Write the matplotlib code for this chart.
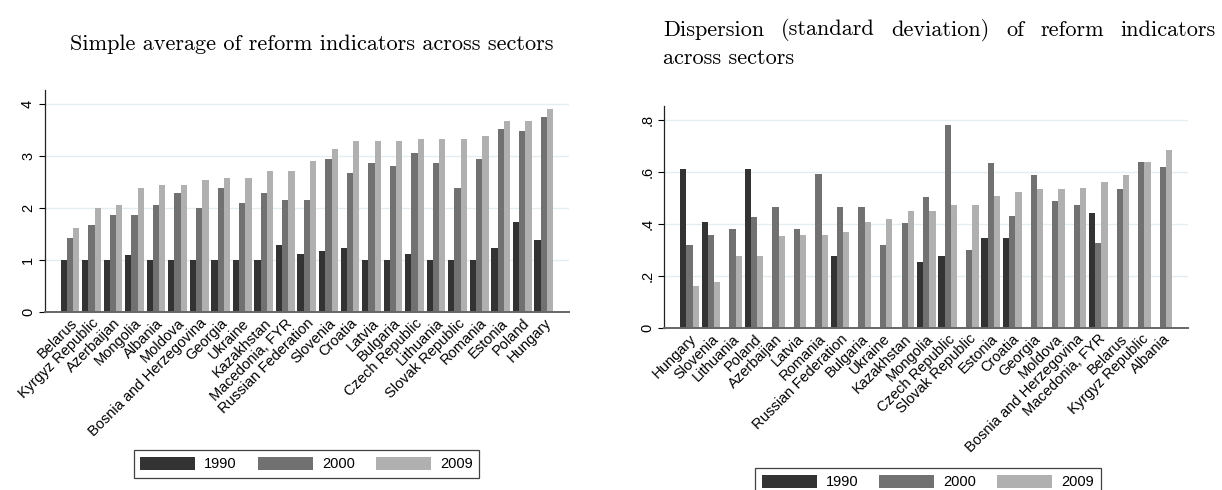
import numpy as np
import matplotlib; matplotlib.use("Agg"); import matplotlib.pyplot as plt
from matplotlib.patches import Patch

# left panel: simple average of reform indicators, sorted by 2009
CATS_AVG = ["Belarus", "Kyrgyz Republic", "Azerbaijan", "Mongolia", "Albania", "Moldova",
            "Bosnia and Herzegovina", "Georgia", "Ukraine", "Kazakhstan", "Macedonia, FYR",
            "Russian Federation", "Slovenia", "Croatia", "Latvia", "Bulgaria", "Czech Republic",
            "Lithuania", "Slovak Republic", "Romania", "Estonia", "Poland", "Hungary"]
AVG_1990 = [1.0, 1.0, 1.0, 1.1, 1.0, 1.0, 1.0, 1.0, 1.0, 1.0, 1.28, 1.12,
            1.17, 1.23, 1.0, 1.0, 1.12, 1.0, 1.0, 1.0, 1.23, 1.73, 1.39]
AVG_2000 = [1.43, 1.67, 1.86, 1.86, 2.05, 2.29, 2.0, 2.39, 2.1, 2.29, 2.15, 2.15,
            2.95, 2.67, 2.86, 2.81, 3.05, 2.86, 2.39, 2.95, 3.52, 3.48, 3.76]
AVG_2009 = [1.62, 2.0, 2.05, 2.39, 2.44, 2.44, 2.53, 2.58, 2.58, 2.72, 2.72, 2.91,
            3.14, 3.29, 3.29, 3.29, 3.33, 3.33, 3.33, 3.38, 3.67, 3.67, 3.9]

# right panel: standard deviation across sectors (nan = not shown)
nan = np.nan
CATS_SD = ["Hungary", "Slovenia", "Lithuania", "Poland", "Azerbaijan", "Latvia", "Romania",
           "Russian Federation", "Bulgaria", "Ukraine", "Kazakhstan", "Mongolia",
           "Czech Republic", "Slovak Republic", "Estonia", "Croatia", "Georgia", "Moldova",
           "Bosnia and Herzegovina", "Macedonia, FYR", "Belarus", "Kyrgyz Republic", "Albania"]
SD_1990 = [0.612, 0.408, nan, 0.612, nan, nan, nan, 0.275, nan, nan, nan, 0.255,
           0.275, nan, 0.347, 0.347, nan, nan, nan, 0.444, nan, nan, nan]
SD_2000 = [0.319, 0.356, 0.381, 0.427, 0.466, 0.381, 0.593, 0.466, 0.467, 0.319, 0.404, 0.505,
           0.782, 0.301, 0.637, 0.432, 0.59, 0.487, 0.472, 0.325, 0.535, 0.638, 0.621]
SD_2009 = [0.162, 0.177, 0.275, 0.275, 0.354, 0.358, 0.358, 0.37, 0.408, 0.419, 0.449, 0.449,
           0.472, 0.472, 0.509, 0.525, 0.535, 0.535, 0.54, 0.562, 0.59, 0.638, 0.686]

YEARS = ["1990", "2000", "2009"]
COLORS = ["#333333", "#717171", "#b0b0b0"]
GRID = "#e4eef1"
W = 0.29

plt.rcParams.update({"font.family": ["Liberation Sans", "DejaVu Sans"], "font.size": 10.5})
fig = plt.figure(figsize=(12.22, 4.9), dpi=100)


def panel(rect, cats, series, ylim, yticks, ylabels):
    ax = fig.add_axes(rect)
    x = np.arange(len(cats))
    for k, (vals, c) in enumerate(zip(series, COLORS)):
        ax.bar(x + (k - 1) * W, vals, width=W, color=c, edgecolor="none", zorder=2)
    ax.set_xlim(-1.17, len(cats) - 1 + 1.17)
    ax.set_ylim(0, ylim)
    ax.set_yticks(yticks); ax.set_yticklabels(ylabels, rotation=90, va="center")
    ax.yaxis.grid(True, color=GRID, lw=1.0, zorder=0)
    ax.set_axisbelow(True)
    ax.set_xticks(x); ax.set_xticklabels(cats, rotation=45, ha="right", rotation_mode="anchor")
    ax.tick_params(axis="x", length=0, pad=3, labelsize=10.5)
    ax.tick_params(axis="y", length=4, width=0.8, pad=3, labelsize=10.5)
    for s in ("top", "right"):
        ax.spines[s].set_visible(False)
    ax.spines["left"].set_color("#222222"); ax.spines["left"].set_linewidth(0.9)
    ax.spines["bottom"].set_color("#666666"); ax.spines["bottom"].set_linewidth(1.4)
    return ax


panel([0.0366, 0.3633, 0.429, 0.453], CATS_AVG, [AVG_1990, AVG_2000, AVG_2009],
      4.27, [0, 1, 2, 3, 4], ["0", "1", "2", "3", "4"])
panel([0.5436, 0.3312, 0.4286, 0.4524], CATS_SD, [SD_1990, SD_2000, SD_2009],
      0.855, [0, 0.2, 0.4, 0.6, 0.8], ["0", ".2", ".4", ".6", ".8"])

handles = [Patch(facecolor=c, edgecolor="none") for c in COLORS]
for cx, cy in [(0.2508, 0.053), (0.7594, 0.0163)]:
    leg = fig.legend(handles, YEARS, loc="center", bbox_to_anchor=(cx, cy), ncol=3,
                     fontsize=10.5, handlelength=3.77, handleheight=1.03, handletextpad=0.62,
                     columnspacing=1.44, borderpad=0.45, fancybox=False, frameon=True)
    leg.get_frame().set_edgecolor("#111111"); leg.get_frame().set_linewidth(0.9)

# titles in Computer Modern
TF = dict(family="cmr10", size=16)
fig.text(312 / 1222, 1 - 44 / 490, "Simple average of reform indicators across sectors",
         ha="center", va="center", **TF)

# justified first line of the right title
words = "Dispersion (standard deviation) of reform indicators".split()
x0, x1 = 663 / 1222, 1216 / 1222
fig.canvas.draw()
r = fig.canvas.get_renderer()
txts = [fig.text(0, 1 - 30 / 490, w, ha="left", va="center", **TF) for w in words]
widths = [t.get_window_extent(r).width / fig.bbox.width for t in txts]
gap = (x1 - x0 - sum(widths)) / (len(words) - 1)
pos = x0
for t, w in zip(txts, widths):
    t.set_x(pos); pos += w + gap
fig.text(x0, 1 - 58 / 490, "across sectors", ha="left", va="center", **TF)

fig.savefig("out.png", dpi=100)
